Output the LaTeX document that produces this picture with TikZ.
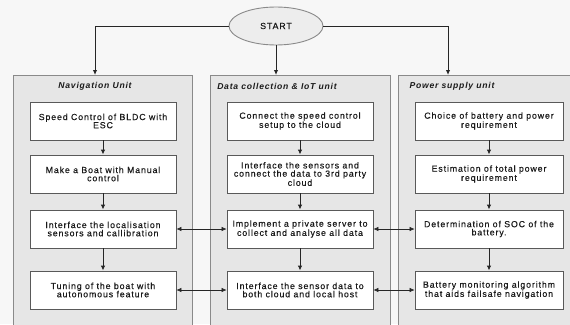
\documentclass[tikz,border=0pt]{standalone}
\usepackage{fontspec}
\setmainfont{Liberation Sans}
\usetikzlibrary{arrows.meta,shapes.geometric}
\definecolor{lanegray}{HTML}{E6E6E6}
\definecolor{gapgray}{HTML}{F7F7F7}
\definecolor{edgegray}{HTML}{8A8A8A}
\definecolor{inkgray}{HTML}{1A1A1A}
\newcommand{\boxfont}{\fontsize{8.8}{8.2}\selectfont\addfontfeature{LetterSpace=10,FakeBold=0.35}}
\newcommand{\headfont}{\fontsize{8.6}{8}\selectfont\bfseries\itshape\addfontfeature{LetterSpace=9}}
\begin{document}
\begin{tikzpicture}[x=1pt,y=-1pt,
  lane/.style={draw=edgegray, fill=lanegray, line width=0.9pt},
  stepbox/.style={draw=black!65, fill=white, minimum width=146pt, minimum height=38pt,
     inner sep=0pt, align=center, font=\boxfont, text=inkgray, line width=0.8pt},
  head/.style={font=\headfont, text=inkgray, inner sep=0pt},
  arr/.style={-{Latex[length=5pt,width=4.5pt]}, line width=1pt, draw=black!85},
  darr/.style={{Latex[length=5pt,width=4.5pt]}-{Latex[length=5pt,width=4.5pt]}, line width=0.6pt, draw=black!85},
  startnode/.style={ellipse, draw=edgegray, fill=lanegray!70, line width=0.9pt,
     minimum width=94pt, minimum height=38pt, inner sep=0pt, font=\boxfont, text=inkgray}
]
\clip (0,0) rectangle (570,324);
\fill[gapgray] (0,0) rectangle (570,324);
% lanes
\draw[lane] (13,75) rectangle (192,340);
\draw[lane] (210,75) rectangle (390,340);
\draw[lane] (398,75) rectangle (580,340);
\coordinate (t1) at (95,75);
\coordinate (t2) at (276,75);
\coordinate (t3) at (448,75);
% start
\node[startnode] (start) at (276,26) {START};
\draw[arr] (start.west) -| (t1);
\draw[arr] (start.south) -- (t2);
\draw[arr] (start.east) -| (t3);
% headers
\node[head] (h1) at (95,86) {Navigation Unit};
\node[head] (h2) at (277,86) {Data collection \& IoT unit};
\node[head] (h3) at (452,86) {Power supply unit};
% left column
\node[stepbox] (a1) at (103,121) {Speed Control of BLDC with\\ESC};
\node[stepbox] (a2) at (103,174) {Make a Boat with Manual\\control};
\node[stepbox] (a3) at (103,229) {Interface the localisation\\sensors and callibration};
\node[stepbox] (a4) at (103,290) {Tuning of the boat with\\autonomous feature};
% middle column
\node[stepbox] (b1) at (300,121) {Connect the speed control\\setup to the cloud};
\node[stepbox] (b2) at (300,174) {Interface the sensors and\\connect the data to 3rd party\\cloud};
\node[stepbox] (b3) at (300,229) {Implement a private server to\\collect and analyse all data};
\node[stepbox] (b4) at (300,290) {Interface the sensor data to\\both cloud and local host};
% right column
\node[stepbox, minimum width=148pt] (c1) at (489,121) {Choice of battery and power\\requirement};
\node[stepbox, minimum width=148pt] (c2) at (489,174) {Estimation of total power\\requirement};
\node[stepbox, minimum width=148pt] (c3) at (489,229) {Determination of SOC of the\\battery.};
\node[stepbox, minimum width=148pt] (c4) at (489,290) {Battery monitoring algorithm\\that aids failsafe navigation};
% vertical arrows
\foreach \c in {a,b,c}{
  \draw[arr] (\c1) -- (\c2);
  \draw[arr] (\c2) -- (\c3);
  \draw[arr] (\c3) -- (\c4);
}
% horizontal arrows
\draw[darr] (a3) -- (b3);
\draw[darr] (a4) -- (b4);
\draw[darr] (b3) -- (c3);
\draw[darr] (b4) -- (c4);
\end{tikzpicture}
\end{document}
